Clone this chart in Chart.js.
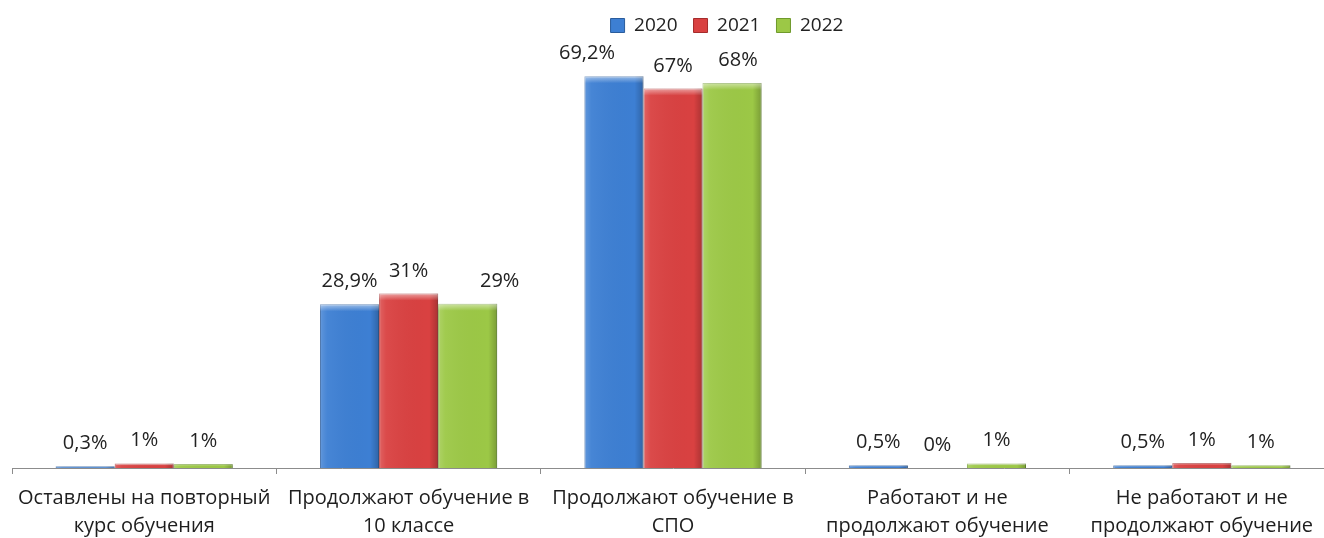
<!DOCTYPE html>
<html>
<head>
<meta charset="utf-8">
<script src="https://cdn.jsdelivr.net/npm/chart.js@4.4.1/dist/chart.umd.min.js"></script>
<style>
  html, body { margin: 0; padding: 0; background: #fff; overflow: hidden; }
  #wrap { width: 1336px; height: 538px; position: relative; }
</style>
</head>
<body>
<div id="wrap"><canvas id="chart"></canvas></div>
<script>
(function () {

  var categories = [
    ['Оставлены на повторный', 'курс обучения'],
    ['Продолжают обучение в', '10 классе'],
    ['Продолжают обучение в', 'СПО'],
    ['Работают и не', 'продолжают обучение'],
    ['Не работают и не', 'продолжают обучение']
  ];
  var years = ['2020', '2021', '2022'];
  var values2020 = [0.3, 28.9, 69.2, 0.5, 0.5];
  var values2021 = [0.8, 30.8, 67, 0, 0.9];
  var values2022 = [0.7, 29, 68, 0.8, 0.5];
  var labelDecimals = [1, 0, 0];

  var fills = ['#3d7fd3', '#d94141', '#9cc846'];
  var edges = ['#2a5c9c', '#a52c2c', '#6f9a2c'];
  var FONT = '"Open Sans", "Noto Sans", sans-serif';

  // labels that were moved by hand in the original (dataset-index: px)
  var labelNudge = { '0-2': -27, '2-1': 32, '2-2': 6 };

  // bevel look: light top/left, dark right edge
  var bevelPlugin = {
    id: 'bevel',
    afterDatasetsDraw: function (chart) {
      var ctx = chart.ctx;
      chart.data.datasets.forEach(function (ds, di) {
        chart.getDatasetMeta(di).data.forEach(function (bar) {
          var h = bar.base - bar.y;
          if (h < 1) return;
          var l = bar.x - bar.width / 2, w = bar.width;
          ctx.save();
          var g = ctx.createLinearGradient(l, 0, l + w, 0);
          g.addColorStop(0, 'rgba(255,255,255,0.18)');
          g.addColorStop(0.12, 'rgba(255,255,255,0.05)');
          g.addColorStop(0.85, 'rgba(0,0,0,0)');
          g.addColorStop(1, 'rgba(0,0,0,0.22)');
          ctx.fillStyle = g;
          ctx.fillRect(l, bar.y, w, h);
          var t = Math.min(7, h / 2);
          var g2 = ctx.createLinearGradient(0, bar.y, 0, bar.y + t);
          g2.addColorStop(0, 'rgba(255,255,255,0.5)');
          g2.addColorStop(1, 'rgba(255,255,255,0)');
          ctx.fillStyle = g2;
          ctx.fillRect(l, bar.y, w, t);
          ctx.restore();
        });
      });
    }
  };

  var valueLabels = {
    id: 'valueLabels',
    afterDatasetsDraw: function (chart) {
      var ctx = chart.ctx;
      ctx.save();
      ctx.font = '20px ' + FONT;
      ctx.fillStyle = '#222';
      ctx.textAlign = 'center';
      ctx.textBaseline = 'alphabetic';
      chart.data.datasets.forEach(function (ds, di) {
        chart.getDatasetMeta(di).data.forEach(function (bar, i) {
          var v = ds.data[i];
          var txt = labelDecimals[di] === 0 ? Math.round(v) + '%' : v.toFixed(labelDecimals[di]).replace('.', ',') + '%';
          var dx = labelNudge[di + '-' + i] || 0;
          ctx.fillText(txt, bar.x + dx, bar.y - 17);
        });
      });
      ctx.restore();
    }
  };

  var shiftLegend = {
    id: 'shiftLegend',
    afterLayout: function (chart) {
      chart.legend.left += 54;
      chart.legend.right += 54;
    }
  };

  var datasets = [values2020, values2021, values2022].map(function (vals, i) {
    return {
      label: years[i],
      data: vals,
      backgroundColor: fills[i],
      borderColor: edges[i],
      borderWidth: 1,
      borderSkipped: 'bottom',
      barPercentage: 1,
      categoryPercentage: 0.67
    };
  });

  new Chart(document.getElementById('chart'), {
    type: 'bar',
    data: { labels: categories, datasets: datasets },
    options: {
      responsive: true,
      maintainAspectRatio: false,
      animation: false,
      layout: { padding: { left: 12, right: 2, top: 0, bottom: -12 } },
      plugins: {
        legend: {
          position: 'top',
          labels: {
            font: { family: FONT, size: 19 },
            color: '#222',
            boxWidth: 14,
            boxHeight: 14,
            padding: 16
          }
        },
        tooltip: { enabled: false }
      },
      scales: {
        x: {
          offset: true,
          grid: {
            offset: true,
            drawOnChartArea: false,
            drawTicks: true,
            tickLength: 6,
            color: '#8c8c8c'
          },
          border: { color: '#8c8c8c', width: 1 },
          ticks: {
            font: { family: FONT, size: 20, lineHeight: 1.4 },
            color: '#1e1e1e',
            padding: 10,
            maxRotation: 0,
            autoSkip: false
          }
        },
        y: {
          display: false,
          min: 0,
          max: 74.7
        }
      }
    },
    plugins: [bevelPlugin, valueLabels, shiftLegend]
  });
})();
</script>
</body>
</html>
